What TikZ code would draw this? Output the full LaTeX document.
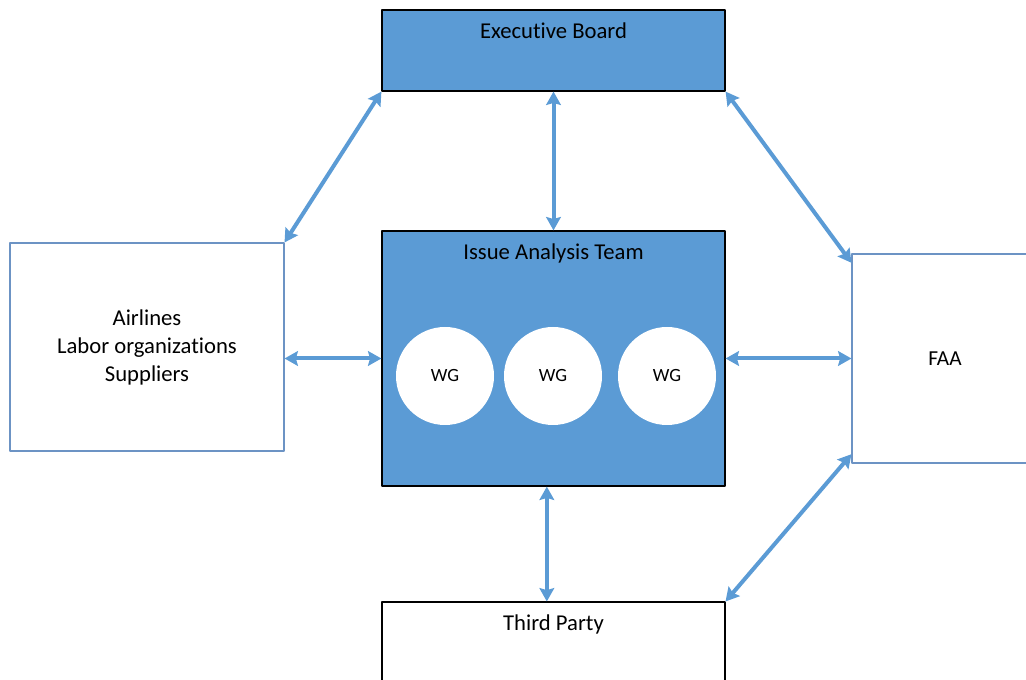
\documentclass[tikz,border=0pt]{standalone}
\usepackage{fontspec}
\setmainfont[Ligatures=NoCommon]{Carlito}
\usetikzlibrary{arrows.meta}
\definecolor{boxblue}{HTML}{5B9BD5}
\definecolor{edgeblue}{HTML}{6C93C4}
\begin{document}
\begin{tikzpicture}[x=0.75pt, y=-0.75pt, font=\fontsize{17}{21}\selectfont, line join=round,
	bluebox/.style={draw=black, fill=boxblue, line width=0.9pt, inner sep=0pt, minimum width=257.25pt},
	whitebox/.style={draw=edgeblue, fill=white, line width=0.8pt, inner sep=0pt, align=center},
	wg/.style={circle, fill=white, inner sep=0pt, minimum size=73.5pt, font=\fontsize{14}{16}\selectfont},
	title/.style={anchor=base, yshift=-21.5pt},
	link/.style={draw=boxblue, line width=3pt, {Stealth[length=10pt, width=11pt, inset=1.5pt]}-{Stealth[length=10pt, width=11pt, inset=1.5pt]}}]
	\useasboundingbox (0,0) rectangle (1026,680);
	\clip (0,0) rectangle (1026,680);
	% boxes
	\node[bluebox, minimum height=60.75pt, label={[title]north:Executive Board}] (eb) at (553.5,50.5) {};
	\node[bluebox, minimum height=191.25pt, label={[title]north:Issue Analysis Team}] (iat) at (553.5,358.5) {};
	\node[whitebox, minimum width=205.5pt, minimum height=156pt] (air) at (147,347) {Airlines\\Labor organizations\\Suppliers};
	\node[whitebox, minimum width=139.5pt, minimum height=156.75pt, font=\fontsize{16}{20}\selectfont] (faa) at (945,358.5) {FAA};
	\node[whitebox, draw=black, minimum width=257.25pt, minimum height=90pt, label={[title]north:Third Party}] (tp) at (553.5,662) {};
	% working groups
	\foreach \x/\n in {445/wga, 553/wgb, 667/wgc}
		\node[wg] (\n) at (\x,376) {WG};
	% links
	\draw[link] (air.north east) -- (eb.south west);
	\draw[link] (eb.south) -- (iat.north);
	\draw[link] (eb.south east) -- ([yshift=-7pt]faa.north west);
	\draw[link] (air.east |- iat.west) -- (iat.west);
	\draw[link] (iat.east) -- (faa.west);
	\draw[link] ([xshift=-5pt]iat.south) -- ([xshift=-5pt]tp.north);
	\draw[link] (tp.north east) -- ([yshift=7pt]faa.south west);
\end{tikzpicture}
\end{document}
